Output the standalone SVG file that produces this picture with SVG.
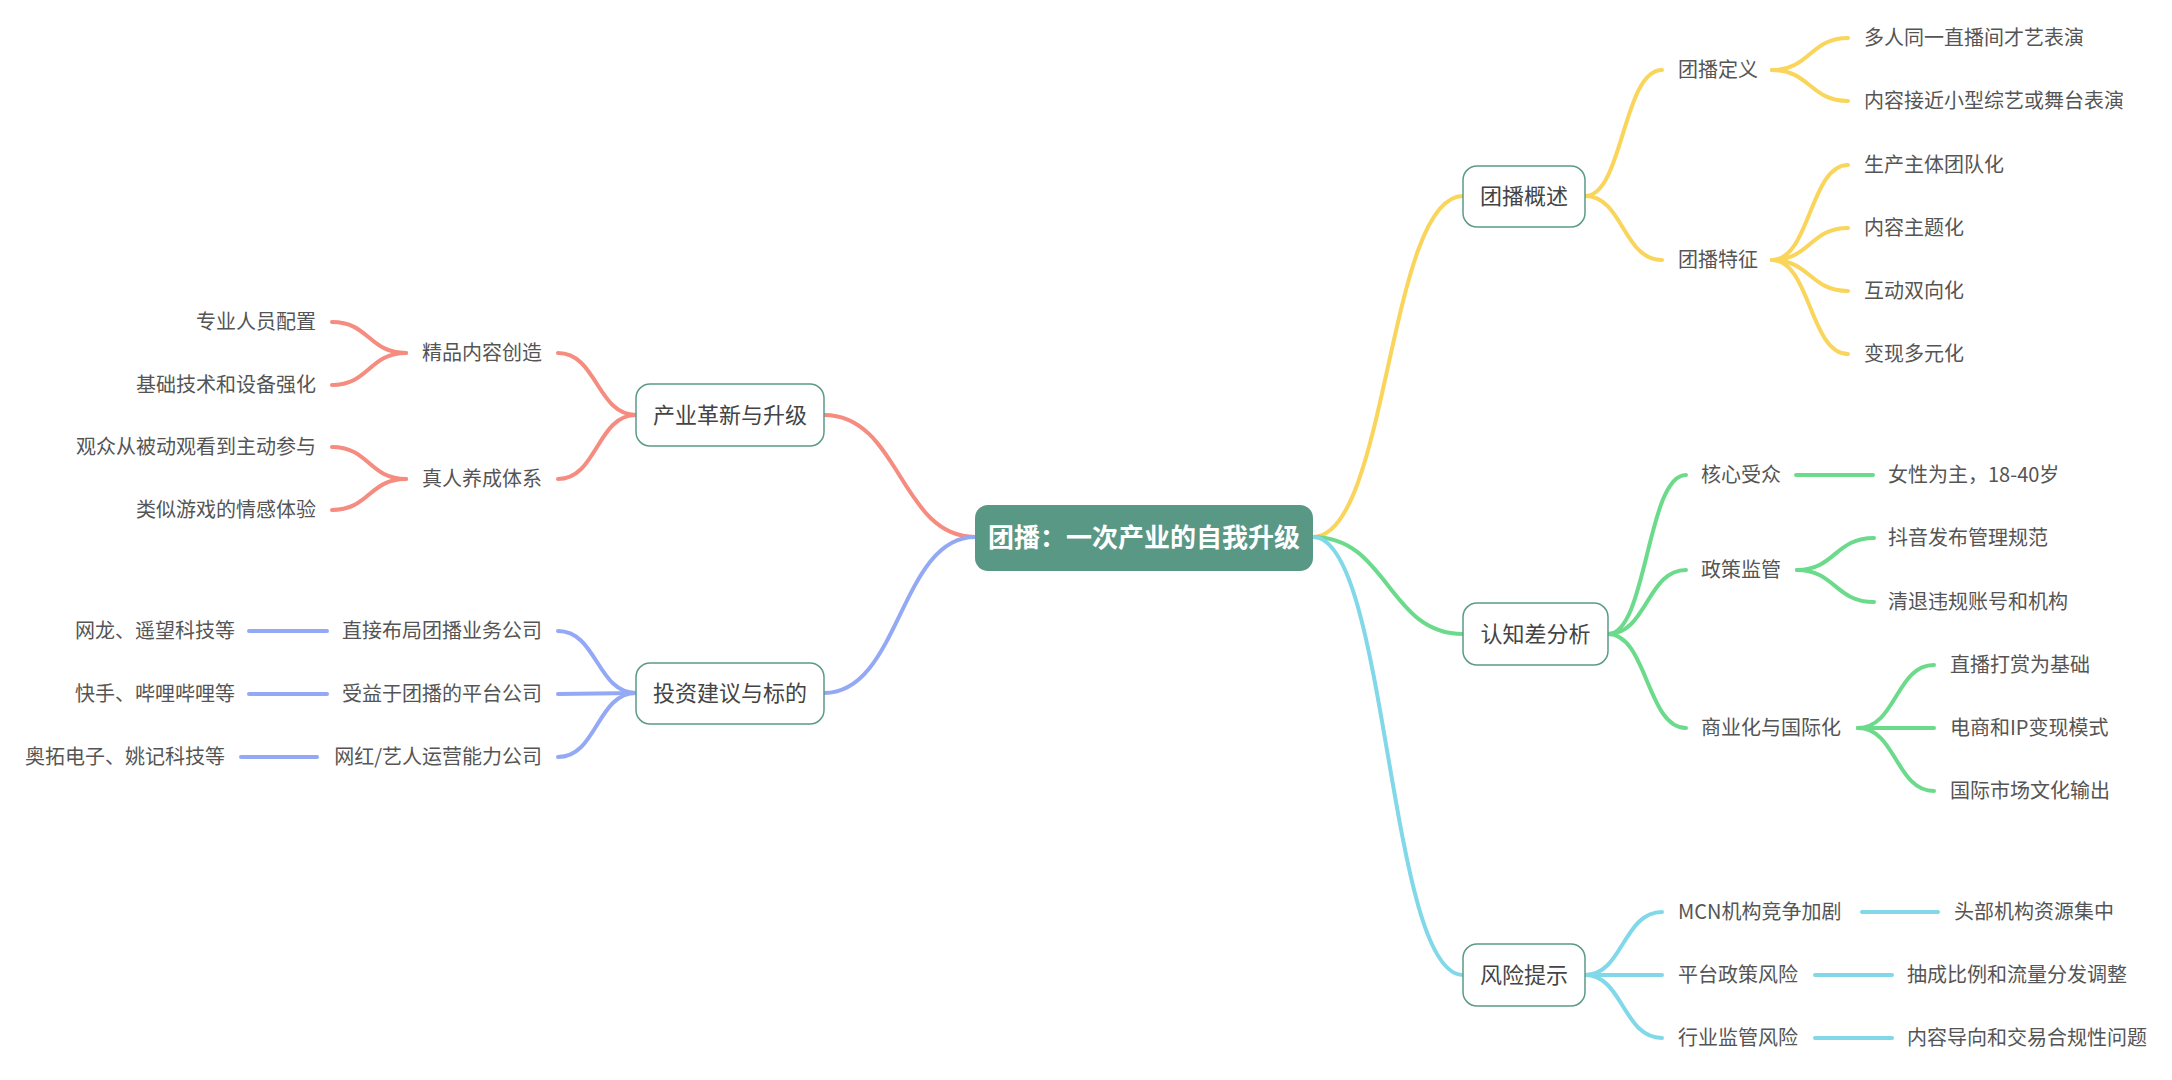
<svg xmlns="http://www.w3.org/2000/svg" width="2172" height="1080" viewBox="0 0 2172 1080">
<style>
text{font-family:"Noto Sans CJK SC","Noto Sans",sans-serif;}
.leaf{font-size:20px;fill:#555555;}
.main{font-size:22px;fill:#444444;text-anchor:middle;}
.root{font-size:26px;fill:#ffffff;font-weight:bold;text-anchor:middle;}
.box{fill:#ffffff;stroke:#5b9b86;stroke-width:1.5;}
.end{text-anchor:end;}
.c{fill:none;stroke-width:4;stroke-linecap:round;}
.y{stroke:#f9d55b;}
.g{stroke:#6bdb8b;}
.b{stroke:#80d8e8;}
.r{stroke:#f68b7f;}
.p{stroke:#94a9f5;}
</style>
<rect width="2172" height="1080" fill="#ffffff"/>
<g id="connectors">
<path class="c y" d="M1313 537 C1388 537,1388 196,1463 196"/>
<path class="c y" d="M1585 196 C1623 196,1623 70,1662 70"/>
<path class="c y" d="M1585 196 C1623 196,1623 260,1662 260"/>
<path class="c y" d="M1772 70 C1810 70,1810 38,1848 38"/>
<path class="c y" d="M1772 70 C1810 70,1810 101,1848 101"/>
<path class="c y" d="M1772 260 C1810 260,1810 165,1848 165"/>
<path class="c y" d="M1772 260 C1810 260,1810 228,1848 228"/>
<path class="c y" d="M1772 260 C1810 260,1810 291,1848 291"/>
<path class="c y" d="M1772 260 C1810 260,1810 354,1848 354"/>
<path class="c g" d="M1313 537 C1388 537,1388 634,1463 634"/>
<path class="c g" d="M1608 634 C1647 634,1647 475,1686 475"/>
<path class="c g" d="M1608 634 C1647 634,1647 570,1686 570"/>
<path class="c g" d="M1608 634 C1647 634,1647 728,1686 728"/>
<path class="c g" d="M1796 475 L1873 475"/>
<path class="c g" d="M1797 570 C1835 570,1835 538,1874 538"/>
<path class="c g" d="M1797 570 C1835 570,1835 602,1874 602"/>
<path class="c g" d="M1858 728 C1896 728,1896 665,1934 665"/>
<path class="c g" d="M1858 728 L1934 728"/>
<path class="c g" d="M1858 728 C1896 728,1896 791,1934 791"/>
<path class="c b" d="M1313 537 C1388 537,1388 975,1463 975"/>
<path class="c b" d="M1585 975 C1623 975,1623 912,1662 912"/>
<path class="c b" d="M1585 975 L1662 975"/>
<path class="c b" d="M1585 975 C1623 975,1623 1038,1662 1038"/>
<path class="c b" d="M1862 912 L1938 912"/>
<path class="c b" d="M1815 975 L1892 975"/>
<path class="c b" d="M1815 1038 L1892 1038"/>
<path class="c r" d="M975 537 C900 537,900 415,824 415"/>
<path class="c r" d="M636 415 C597 415,597 353,558 353"/>
<path class="c r" d="M636 415 C597 415,597 479,558 479"/>
<path class="c r" d="M406 353 C369 353,369 322,332 322"/>
<path class="c r" d="M406 353 C369 353,369 385,332 385"/>
<path class="c r" d="M406 479 C369 479,369 447,332 447"/>
<path class="c r" d="M406 479 C369 479,369 510,332 510"/>
<path class="c p" d="M975 537 C900 537,900 693,824 693"/>
<path class="c p" d="M636 693 C597 693,597 631,558 631"/>
<path class="c p" d="M636 693 L558 694"/>
<path class="c p" d="M636 693 C597 693,597 757,558 757"/>
<path class="c p" d="M327 631 L249 631"/>
<path class="c p" d="M327 694 L249 694"/>
<path class="c p" d="M317 757 L241 757"/>
</g>
<g id="root">
<rect x="975" y="505" width="338" height="66" rx="13" fill="#5a9886"/>
<text class="root" x="1144" y="547">团播：一次产业的自我升级</text>
</g>
<g id="n-overview">
<rect class="box" x="1463" y="166" width="122" height="61" rx="14"/>
<text class="main" x="1524" y="204">团播概述</text>
</g>
<g id="n-def"><text class="leaf" x="1678" y="77">团播定义</text></g>
<g id="n-def1"><text class="leaf" x="1864" y="45">多人同一直播间才艺表演</text></g>
<g id="n-def2"><text class="leaf" x="1864" y="108">内容接近小型综艺或舞台表演</text></g>
<g id="n-feat"><text class="leaf" x="1678" y="267">团播特征</text></g>
<g id="n-feat1"><text class="leaf" x="1864" y="172">生产主体团队化</text></g>
<g id="n-feat2"><text class="leaf" x="1864" y="235">内容主题化</text></g>
<g id="n-feat3"><text class="leaf" x="1864" y="298">互动双向化</text></g>
<g id="n-feat4"><text class="leaf" x="1864" y="361">变现多元化</text></g>
<g id="n-gap">
<rect class="box" x="1463" y="603" width="145" height="62" rx="14"/>
<text class="main" x="1535.5" y="642">认知差分析</text>
</g>
<g id="n-aud"><text class="leaf" x="1701" y="482">核心受众</text></g>
<g id="n-aud1"><text class="leaf" x="1888" y="482">女性为主，18-40岁</text></g>
<g id="n-pol"><text class="leaf" x="1701" y="577">政策监管</text></g>
<g id="n-pol1"><text class="leaf" x="1888" y="545">抖音发布管理规范</text></g>
<g id="n-pol2"><text class="leaf" x="1888" y="609">清退违规账号和机构</text></g>
<g id="n-com"><text class="leaf" x="1701" y="735">商业化与国际化</text></g>
<g id="n-com1"><text class="leaf" x="1950" y="672">直播打赏为基础</text></g>
<g id="n-com2"><text class="leaf" x="1950" y="735">电商和IP变现模式</text></g>
<g id="n-com3"><text class="leaf" x="1950" y="798">国际市场文化输出</text></g>
<g id="n-risk">
<rect class="box" x="1463" y="944" width="122" height="62" rx="14"/>
<text class="main" x="1524" y="983">风险提示</text>
</g>
<g id="n-risk1"><text class="leaf" x="1678" y="919">MCN机构竞争加剧</text></g>
<g id="n-risk1a"><text class="leaf" x="1954" y="919">头部机构资源集中</text></g>
<g id="n-risk2"><text class="leaf" x="1678" y="982">平台政策风险</text></g>
<g id="n-risk2a"><text class="leaf" x="1907" y="982">抽成比例和流量分发调整</text></g>
<g id="n-risk3"><text class="leaf" x="1678" y="1045">行业监管风险</text></g>
<g id="n-risk3a"><text class="leaf" x="1907" y="1045">内容导向和交易合规性问题</text></g>
<g id="n-ind">
<rect class="box" x="636" y="384" width="188" height="62" rx="14"/>
<text class="main" x="730" y="423">产业革新与升级</text>
</g>
<g id="n-qual"><text class="leaf end" x="542" y="360">精品内容创造</text></g>
<g id="n-qual1"><text class="leaf end" x="316" y="329">专业人员配置</text></g>
<g id="n-qual2"><text class="leaf end" x="316" y="392">基础技术和设备强化</text></g>
<g id="n-real"><text class="leaf end" x="542" y="486">真人养成体系</text></g>
<g id="n-real1"><text class="leaf end" x="316" y="454">观众从被动观看到主动参与</text></g>
<g id="n-real2"><text class="leaf end" x="316" y="517">类似游戏的情感体验</text></g>
<g id="n-inv">
<rect class="box" x="636" y="663" width="188" height="61" rx="14"/>
<text class="main" x="730" y="701">投资建议与标的</text>
</g>
<g id="n-inv1"><text class="leaf end" x="542" y="638">直接布局团播业务公司</text></g>
<g id="n-inv1a"><text class="leaf end" x="235" y="638">网龙、遥望科技等</text></g>
<g id="n-inv2"><text class="leaf end" x="542" y="701">受益于团播的平台公司</text></g>
<g id="n-inv2a"><text class="leaf end" x="235" y="701">快手、哔哩哔哩等</text></g>
<g id="n-inv3"><text class="leaf end" x="542" y="764">网红/艺人运营能力公司</text></g>
<g id="n-inv3a"><text class="leaf end" x="225" y="764">奥拓电子、姚记科技等</text></g>
</svg>
